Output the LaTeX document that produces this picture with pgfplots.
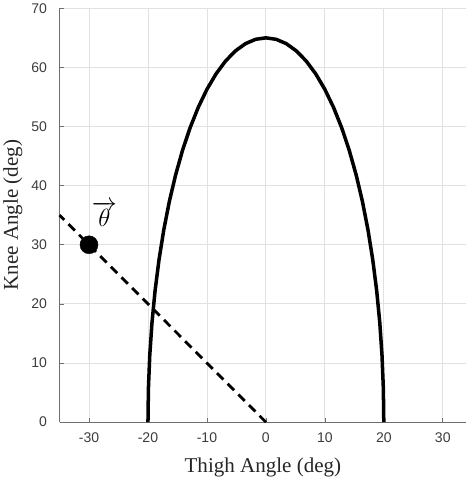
\documentclass[border=0pt]{standalone}
\usepackage{fontspec}
\setmainfont{Liberation Serif}
\setsansfont{Liberation Sans}
\usepackage{pgfplots}
\pgfplotsset{compat=1.18}
\definecolor{gridc}{RGB}{225,225,225}
\definecolor{axc}{RGB}{110,110,110}
\definecolor{tickc}{RGB}{60,60,60}
\begin{document}
\begin{tikzpicture}
\begin{axis}[
  scale only axis,
  width=406pt, height=413pt,
  xmin=-35, xmax=34, ymin=0, ymax=70,
  axis x line=bottom, axis y line=left,
  axis line style={axc, line width=0.8pt, -},
  xtick={-30,-20,...,30}, ytick={0,10,...,70},
  tick align=inside, major tick length=4pt,
  tick style={axc, line width=0.6pt},
  grid=major, major grid style={gridc, line width=0.8pt},
  /pgf/number format/assume math mode=true,
  ticklabel style={font=\sffamily\fontsize{14}{14}\selectfont, text=tickc},
  xticklabel style={yshift=-7pt},
  yticklabel style={xshift=-9pt},
  xlabel={Thigh Angle (deg)}, ylabel={Knee Angle (deg)},
  label style={font=\fontsize{21}{22}\selectfont, text=black!85},
  xlabel style={yshift=-8pt},
  ylabel style={yshift=2pt},
  clip=false,
]
\addplot[black, line width=3.5pt] coordinates {
(-20,0) (-19.924,5.666) (-19.696,11.287) (-19.319,16.823) (-18.794,22.231)
(-18.126,27.470) (-17.321,32.5) (-16.383,37.282) (-15.321,41.781) (-14.142,45.962)
(-12.856,49.792) (-11.472,53.244) (-10,56.292) (-8.452,58.910) (-6.840,61.080)
(-5.176,62.785) (-3.473,64.012) (-1.743,64.753) (0,65)
(1.743,64.753) (3.473,64.012) (5.176,62.785) (6.840,61.080) (8.452,58.910)
(10,56.292) (11.472,53.244) (12.856,49.792) (14.142,45.962) (15.321,41.781)
(16.383,37.282) (17.321,32.5) (18.126,27.470) (18.794,22.231) (19.319,16.823)
(19.696,11.287) (19.924,5.666) (20,0)
};
\addplot[black, line width=2.8pt, dash pattern=on 9pt off 6pt] coordinates {(0,0) (-35,35)};
\addplot[only marks, mark=*, mark size=9pt, black] coordinates {(-30,30)};
\node[font=\fontsize{24}{24}\selectfont] at (axis cs:-27.4,35.2) {$\overrightarrow{\theta}$};
\end{axis}
\end{tikzpicture}
\end{document}
